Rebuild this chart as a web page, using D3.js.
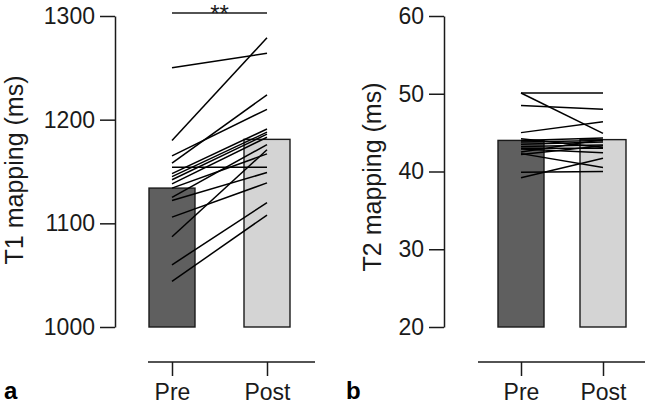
<!DOCTYPE html>
<html>
<head>
<meta charset="utf-8">
<script src="https://cdn.jsdelivr.net/npm/d3@7"></script>
<style>
  body { margin: 0; background: #fff; }
  svg { display: block; font-family: "Liberation Sans", Arial, sans-serif; }
</style>
</head>
<body>
<svg id="chart" width="645" height="405"></svg>
<script>
// categories
var groups = ["Pre", "Post"];

// T1 mapping (ms), one entry per subject
var t1Pre  = [1250, 1180, 1165, 1158, 1154, 1148, 1145, 1142, 1138, 1134, 1125, 1122, 1106, 1087, 1060, 1044];
var t1Post = [1264, 1279, 1210, 1224, 1154, 1191, 1188, 1186, 1183, 1167, 1176, 1149, 1139, 1171, 1120, 1108];
var t1Means = [1134, 1181];
var t1Ticks = [1000, 1100, 1200, 1300];

// T2 mapping (ms)
var t2Pre  = [50.1, 50.1, 48.5, 45.0, 44.0, 43.8, 43.5, 43.2, 43.0, 42.9, 42.5, 42.3, 42.2, 39.9, 39.2, 44.2];
var t2Post = [50.1, 44.9, 48.0, 46.4, 44.3, 44.0, 43.8, 43.4, 43.0, 42.4, 44.1, 40.5, 43.3, 40.0, 41.7, 43.1];
var t2Means = [44.0, 44.1];
var t2Ticks = [20, 30, 40, 50, 60];

var barFills = ["#5f5f5f", "#d4d4d4"];
var ink = "#1a1a1a";

var svg = d3.select("#chart");

function drawPanel(cfg) {
  var g = svg.append("g");

  var y = d3.scaleLinear().domain(cfg.domain).range([327, 16]);
  var x = d3.scalePoint().domain(groups).range(cfg.xRange);
  var barW = 46;

  // bars (means)
  g.selectAll(".bar")
    .data(groups)
    .enter()
    .append("rect")
    .attr("class", "bar")
    .attr("x", function(d) { return x(d) - barW / 2; })
    .attr("width", barW)
    .attr("y", function(d, i) { return y(cfg.means[i]); })
    .attr("height", function(d, i) { return y(cfg.domain[0]) - y(cfg.means[i]); })
    .attr("fill", function(d, i) { return barFills[i]; })
    .attr("stroke", ink)
    .attr("stroke-width", 1.4);

  // paired subject lines
  var pairs = cfg.pre.map(function(v, i) { return [v, cfg.post[i]]; });
  g.selectAll(".pair")
    .data(pairs)
    .enter()
    .append("line")
    .attr("class", "pair")
    .attr("x1", x("Pre"))
    .attr("x2", x("Post"))
    .attr("y1", function(d) { return y(d[0]); })
    .attr("y2", function(d) { return y(d[1]); })
    .attr("stroke", "#000")
    .attr("stroke-width", 1.5);

  // y axis
  var yAxis = g.append("g")
    .attr("transform", "translate(" + cfg.yAxisX + ",0)")
    .call(d3.axisLeft(y).tickValues(cfg.ticks).tickFormat(d3.format("d"))
      .tickSize(15).tickSizeOuter(0).tickPadding(5));
  yAxis.select(".domain").attr("stroke", ink).attr("stroke-width", 1.5);
  yAxis.selectAll(".tick line").attr("stroke", ink).attr("stroke-width", 1.5);
  yAxis.selectAll(".tick text")
    .attr("font-size", 23)
    .attr("fill", ink)
    .attr("font-family", "Liberation Sans, Arial, sans-serif");

  // x axis
  var xAxis = g.append("g")
    .attr("transform", "translate(0,362)")
    .call(d3.axisBottom(x).tickSize(14).tickSizeOuter(0).tickPadding(8));
  xAxis.select(".domain")
    .attr("d", "M" + cfg.xLine[0] + ",0H" + cfg.xLine[1])
    .attr("stroke", ink)
    .attr("stroke-width", 1.5);
  xAxis.selectAll(".tick line").attr("stroke", ink).attr("stroke-width", 1.5);
  xAxis.selectAll(".tick text")
    .attr("font-size", 23)
    .attr("fill", ink)
    .attr("font-family", "Liberation Sans, Arial, sans-serif");

  // y title
  g.append("text")
    .attr("transform", "translate(" + cfg.titleX + "," + cfg.titleY + ") rotate(-90)")
    .attr("text-anchor", "middle")
    .attr("font-size", 25)
    .attr("fill", ink)
    .text(cfg.title);

  // panel letter
  g.append("text")
    .attr("x", cfg.letterX)
    .attr("y", 399)
    .attr("font-size", 24)
    .attr("font-weight", "bold")
    .attr("fill", "#000")
    .text(cfg.letter);

  return { g: g, x: x, y: y };
}

var left = drawPanel({
  domain: [1000, 1300], ticks: t1Ticks, means: t1Means,
  pre: t1Pre, post: t1Post,
  xRange: [172, 267], xLine: [148, 315], yAxisX: 115,
  title: "T1 mapping (ms)", titleX: 23, titleY: 170,
  letter: "a", letterX: 4
});

drawPanel({
  domain: [20, 60], ticks: t2Ticks, means: t2Means,
  pre: t2Pre, post: t2Post,
  xRange: [521, 603], xLine: [478, 645], yAxisX: 444,
  title: "T2 mapping (ms)", titleX: 381, titleY: 177,
  letter: "b", letterX: 346
});

// significance bracket on panel a
left.g.append("line")
  .attr("x1", left.x("Pre"))
  .attr("x2", left.x("Post"))
  .attr("y1", 13).attr("y2", 13)
  .attr("stroke", ink)
  .attr("stroke-width", 1.3);
left.g.append("text")
  .attr("x", (left.x("Pre") + left.x("Post")) / 2)
  .attr("y", 22)
  .attr("text-anchor", "middle")
  .attr("font-size", 24)
  .attr("fill", ink)
  .text("**");
</script>
</body>
</html>
